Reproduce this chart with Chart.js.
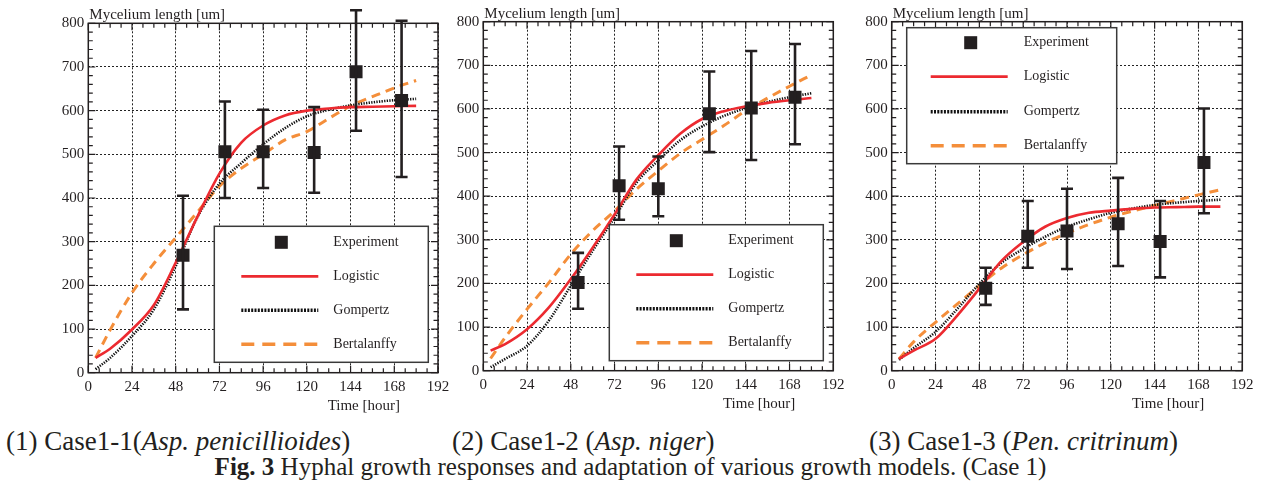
<!DOCTYPE html>
<html><head><meta charset="utf-8">
<script src="https://cdn.jsdelivr.net/npm/chart.js@4/dist/chart.umd.min.js"></script>
<style>
html,body{margin:0;padding:0;background:#fff;width:1261px;height:491px;overflow:hidden;position:relative;}
canvas{position:absolute;top:0;}
.cap{position:absolute;font-family:"Liberation Serif","Times New Roman",serif;font-size:27px;color:#231f20;white-space:nowrap;line-height:30px;}
.cap2{font-size:25px;}
</style></head><body>
<canvas id="c1" width="460" height="420" style="left:0px"></canvas>
<canvas id="c2" width="460" height="420" style="left:395px"></canvas>
<canvas id="c3" width="460" height="420" style="left:803px"></canvas>
<div class="cap" style="left:6px;top:426px">(1) Case1-1(<i>Asp. penicillioides</i>)</div>
<div class="cap" style="left:452px;top:426px">(2) Case1-2 (<i>Asp. niger</i>)</div>
<div class="cap" style="left:869px;top:426px">(3) Case1-3 (<i>Pen. critrinum</i>)</div>
<div class="cap cap2" style="left:0;width:1261px;text-align:center;top:452px"><b>Fig. 3</b> Hyphal growth responses and adaptation of various growth models. (Case 1)</div>
<script>
// ---------- data ----------
const xTicks = [0, 24, 48, 72, 96, 120, 144, 168, 192];
const yTicks = [0, 100, 200, 300, 400, 500, 600, 700, 800];
const seriesNames = ['Experiment', 'Logistic', 'Gompertz', 'Bertalanffy'];

const fitTimes = [4, 12, 24, 36, 48, 60, 72, 84, 96, 108, 120, 132, 144, 156, 168, 180];

// Case1-1 (Asp. penicillioides)
const p1ExpTimes = [52, 75, 96, 124, 147, 172];
const p1ExpMean  = [269, 506, 506, 504, 689, 623];
const p1ExpUpper = [405, 621, 602, 608, 830, 806];
const p1ExpLower = [145, 400, 423, 412, 554, 448];
const p1Logistic    = [34, 55, 99, 155, 252, 358, 456, 527, 566, 589, 600, 605, 608, 609, 610, 611];
const p1Gompertz    = [8, 34, 84, 145, 244, 357, 433, 480, 523, 560, 587, 602, 612, 619, 624, 627];
const p1Bertalanffy = [34, 98, 183, 250, 309, 368, 427, 468, 500, 533, 552, 582, 611, 632, 652, 669];

// Case1-2 (Asp. niger)
const p2ExpTimes = [52, 74.5, 96, 124, 147, 171];
const p2ExpMean  = [202, 424, 417, 589, 602, 627];
const p2ExpUpper = [270, 514, 491, 686, 733, 749];
const p2ExpLower = [142, 346, 354, 501, 483, 519];
const p2Logistic    = [46, 61, 95, 145, 210, 282, 358, 438, 494, 543, 577, 595, 606, 614, 620, 625];
const p2Gompertz    = [8, 27, 57, 115, 195, 275, 351, 431, 482, 528, 560, 584, 602, 616, 627, 636];
const p2Bertalanffy = [28, 76, 141, 202, 267, 321, 366, 416, 458, 498, 530, 562, 596, 625, 652, 678];

// Case1-3 (Pen. critrinum)
const p3ExpTimes = [51.5, 74.5, 96, 124, 147, 171];
const p3ExpMean  = [189, 308, 320, 337, 296, 477];
const p3ExpUpper = [236, 389, 417, 442, 389, 601];
const p3ExpLower = [151, 236, 233, 240, 214, 361];
const p3Logistic    = [27, 46, 73, 127, 188, 251, 295, 330, 350, 362, 367, 371, 374, 375, 376, 376];
const p3Gompertz    = [25, 52, 89, 142, 199, 247, 279, 307, 330, 347, 362, 372, 380, 385, 389, 392];
const p3Bertalanffy = [27, 66, 111, 153, 195, 235, 266, 293, 315, 335, 352, 366, 379, 391, 403, 415];

// ---------- style ----------
const INK = '#231f20';
const RED = '#ec2a30';
const ORANGE = '#f48e3a';
const SERIF = "'Liberation Serif', 'Times New Roman', serif";
Chart.defaults.font.family = SERIF;
Chart.defaults.font.size = 15;
Chart.defaults.color = INK;

const decor = {
  id: 'decor',
  afterDatasetsDraw(chart) {
    const ctx = chart.ctx, a = chart.chartArea, xs = chart.scales.x, ys = chart.scales.y;
    const g = chart.options.plugins.decor;
    // error bars
    chart.data.datasets.forEach(ds => {
      if (!ds.errUpper) return;
      ctx.save();
      ctx.strokeStyle = INK; ctx.lineWidth = 2.6;
      ds.data.forEach((p, i) => {
        const x = xs.getPixelForValue(p.x);
        const y1 = ys.getPixelForValue(ds.errUpper[i]);
        const y2 = ys.getPixelForValue(ds.errLower[i]);
        ctx.beginPath();
        ctx.moveTo(x, y1); ctx.lineTo(x, y2);
        ctx.moveTo(x - 6, y1); ctx.lineTo(x + 6, y1);
        ctx.moveTo(x - 6, y2); ctx.lineTo(x + 6, y2);
        ctx.stroke();
      });
      ctx.restore();
    });
    // frame and inner ticks
    ctx.save();
    ctx.strokeStyle = INK; ctx.lineWidth = 1.5;
    ctx.strokeRect(a.left, a.top, a.right - a.left, a.bottom - a.top);
    ctx.lineWidth = 1.2;
    ctx.beginPath();
    for (let t = xs.min; t <= xs.max; t += 6) {
      const x = xs.getPixelForValue(t), L = (t % 24 === 0) ? 7 : 4.5;
      ctx.moveTo(x, a.bottom); ctx.lineTo(x, a.bottom - L);
      ctx.moveTo(x, a.top); ctx.lineTo(x, a.top + L);
    }
    for (let v = ys.min; v <= ys.max; v += 20) {
      const y = ys.getPixelForValue(v), L = (v % 100 === 0) ? 7 : 4.5;
      ctx.moveTo(a.left, y); ctx.lineTo(a.left + L, y);
      ctx.moveTo(a.right, y); ctx.lineTo(a.right - L, y);
    }
    ctx.stroke();
    ctx.restore();
    // legend
    const L = g.legend;
    const bx = a.left + L.x, by = a.top + L.y;
    ctx.save();
    ctx.fillStyle = '#fff';
    ctx.fillRect(bx, by, L.w, L.h);
    ctx.strokeStyle = '#3a3a3a'; ctx.lineWidth = 1.5;
    ctx.strokeRect(bx, by, L.w, L.h);
    const dss = chart.data.datasets;
    dss.forEach((ds, i) => {
      const ry = by + L.rows[i];
      if (ds.errUpper) {
        ctx.fillStyle = INK;
        ctx.fillRect(bx + L.markerX - 6.5, ry - 6.5, 13, 13);
      } else {
        ctx.beginPath();
        ctx.strokeStyle = ds.borderColor;
        ctx.lineWidth = ds.legendWidth;
        ctx.setLineDash(ds.legendDash || []);
        ctx.moveTo(bx + L.lineX1, ry); ctx.lineTo(bx + L.lineX2, ry);
        ctx.stroke();
        ctx.setLineDash([]);
      }
      ctx.fillStyle = INK;
      ctx.font = '14px ' + SERIF;
      ctx.textBaseline = 'middle';
      ctx.textAlign = 'left';
      ctx.fillText(ds.label, bx + L.textX, ry);
    });
    // axis titles
    ctx.font = '15px ' + SERIF;
    ctx.fillStyle = INK;
    ctx.textBaseline = 'middle';
    ctx.textAlign = 'left';
    ctx.fillText('Mycelium length [um]', a.left + 1, a.top - 8);
    ctx.textAlign = 'right';
    ctx.fillText('Time [hour]', a.right - 38, a.bottom + 33);
    ctx.restore();
  }
};

function makeChart(id, geo, times, mean, upper, lower, logi, gomp, bert, legend) {
  const pts = (xs, ys) => xs.map((x, i) => ({x: x, y: ys[i]}));
  const lineBase = {type: 'line', pointRadius: 0, cubicInterpolationMode: 'monotone', fill: false, order: 2};
  const tickFont = {family: SERIF, size: 15};
  return new Chart(document.getElementById(id), {
    data: {
      datasets: [
        {type: 'scatter', label: seriesNames[0], data: pts(times, mean), pointStyle: 'rect', pointRadius: 9.2,
         backgroundColor: INK, borderWidth: 0, errUpper: upper, errLower: lower, order: 0},
        Object.assign({}, lineBase, {label: seriesNames[1], data: pts(fitTimes, logi), borderColor: RED, borderWidth: 2.6,
         legendWidth: 2.8}),
        Object.assign({}, lineBase, {label: seriesNames[2], data: pts(fitTimes, gomp), borderColor: '#111', borderWidth: 2.6,
         borderDash: [1.3, 1.3], legendWidth: 3.5, legendDash: [2, 1.3]}),
        Object.assign({}, lineBase, {label: seriesNames[3], data: pts(fitTimes, bert), borderColor: ORANGE, borderWidth: 3,
         borderDash: [9, 6], legendWidth: 3.5, legendDash: [13, 8]})
      ]
    },
    options: {
      responsive: false, animation: false,
      layout: {padding: {top: geo.top, right: geo.right, left: 0, bottom: 0}},
      plugins: {legend: {display: false}, tooltip: {enabled: false}, decor: {legend: legend}},
      scales: {
        x: {type: 'linear', min: 0, max: 192,
            afterFit: s => { s.height = geo.xh; },
            afterBuildTicks: s => { s.ticks = xTicks.map(v => ({value: v})); },
            ticks: {autoSkip: false, maxRotation: 0, padding: 5, color: INK, font: tickFont},
            grid: {color: '#222', lineWidth: 1, drawTicks: false, tickLength: 0},
            border: {display: false, dash: [2, 2]}},
        y: {type: 'linear', min: 0, max: 800,
            afterFit: s => { s.width = geo.yw; },
            afterBuildTicks: s => { s.ticks = yTicks.map(v => ({value: v})); },
            ticks: {padding: 4, color: INK, font: tickFont},
            grid: {color: '#222', lineWidth: 1, drawTicks: false, tickLength: 0},
            border: {display: false, dash: [2, 2]}}
      }
    },
    plugins: [decor]
  });
}

const legendLow = {x: 126, y: 203, w: 214, h: 136, rows: [16, 50, 84, 118], markerX: 67, lineX1: 27, lineX2: 104, textX: 119};
const legendHigh = {x: 15, y: 6, w: 210, h: 136, rows: [15, 49, 84, 118], markerX: 64, lineX1: 24, lineX2: 101, textX: 117};

makeChart('c1', {top: 23.3, right: 460 - 88.3 - 349.7, xh: 420 - 372.7, yw: 88.3},
  p1ExpTimes, p1ExpMean, p1ExpUpper, p1ExpLower, p1Logistic, p1Gompertz, p1Bertalanffy, legendLow);
makeChart('c2', {top: 21.7, right: 460 - 88.3 - 350, xh: 420 - 370.7, yw: 88.3},
  p2ExpTimes, p2ExpMean, p2ExpUpper, p2ExpLower, p2Logistic, p2Gompertz, p2Bertalanffy, legendLow);
makeChart('c3', {top: 21.7, right: 460 - 88.7 - 350.6, xh: 420 - 370.7, yw: 88.7},
  p3ExpTimes, p3ExpMean, p3ExpUpper, p3ExpLower, p3Logistic, p3Gompertz, p3Bertalanffy, legendHigh);
</script>
</body></html>
